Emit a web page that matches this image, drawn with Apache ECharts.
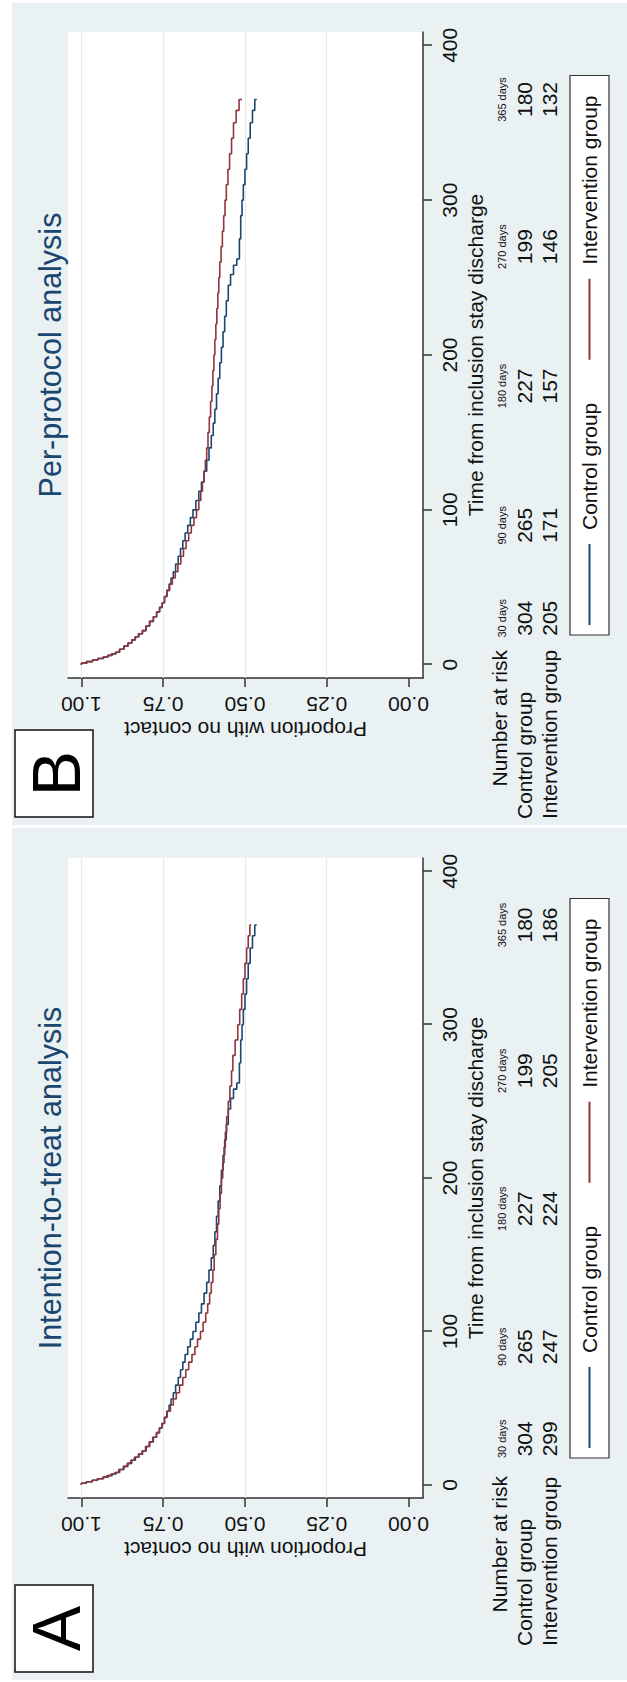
<!DOCTYPE html>
<html>
<head>
<meta charset="utf-8">
<script src="https://cdn.jsdelivr.net/npm/echarts@6/dist/echarts.min.js"></script>
<style>
  html, body { margin: 0; padding: 0; background: #fff; width: 627px; height: 1682px; overflow: hidden; }
  /* the figure is laid out landscape and turned a quarter turn counter-clockwise */
  #chart { position: absolute; left: 0; top: 1682px; width: 1682px; height: 627px;
           transform-origin: 0 0; transform: rotate(-90deg); }
</style>
</head>
<body>
<div id="chart"></div>
<script>
// ---- data ----
const timeTicks = [0, 100, 200, 300, 400];
const propTicks = [0, 0.25, 0.5, 0.75, 1];
const riskDays = [30, 90, 180, 270, 365];
const riskDayLabels = ['30 days', '90 days', '180 days', '270 days', '365 days'];
const controlAtRisk = [304, 265, 227, 199, 180];
const ittInterventionAtRisk = [299, 247, 224, 205, 186];
const ppInterventionAtRisk = [205, 171, 157, 146, 132];

// Kaplan-Meier estimates: [days, proportion with no contact]
const controlCurve = [
  [0,1],[1,0.985],[2,0.966],[3,0.950],[4,0.932],[5,0.918],[6,0.906],[7,0.894],[8,0.883],
  [10,0.870],[12,0.858],[14,0.846],[16,0.835],[18,0.824],[20,0.813],[22,0.802],[25,0.791],
  [28,0.780],[31,0.770],[34,0.761],[37,0.753],[40,0.746],[44,0.739],[48,0.732],[52,0.726],
  [56,0.719],[60,0.712],[65,0.704],[70,0.697],[75,0.690],[80,0.683],[85,0.675],[90,0.667],
  [95,0.659],[100,0.650],[106,0.641],[112,0.633],[118,0.625],[125,0.617],[132,0.610],
  [140,0.603],[148,0.597],[156,0.592],[165,0.587],[175,0.582],[185,0.577],[195,0.572],
  [205,0.567],[215,0.562],[225,0.557],[235,0.551],[245,0.544],[252,0.535],[258,0.525],
  [262,0.517],[275,0.513],[290,0.509],[300,0.505],[310,0.500],[320,0.495],[330,0.490],
  [340,0.484],[350,0.477],[358,0.470],[365,0.464]
];
const ittInterventionCurve = [
  [0,1],[1,0.985],[2,0.968],[3,0.952],[4,0.935],[5,0.922],[6,0.910],[7,0.898],[8,0.886],
  [10,0.872],[12,0.860],[14,0.849],[16,0.838],[18,0.826],[20,0.815],[22,0.804],[25,0.793],
  [28,0.782],[31,0.771],[34,0.762],[37,0.754],[40,0.746],[44,0.738],[48,0.728],[52,0.719],
  [56,0.710],[60,0.700],[65,0.690],[70,0.681],[75,0.672],[80,0.662],[85,0.653],[90,0.645],
  [95,0.636],[100,0.628],[106,0.620],[112,0.614],[118,0.608],[125,0.603],[132,0.598],
  [140,0.594],[150,0.589],[160,0.584],[170,0.580],[180,0.576],[190,0.572],[200,0.568],
  [210,0.564],[220,0.560],[230,0.556],[240,0.551],[250,0.546],[260,0.541],[270,0.537],
  [280,0.530],[290,0.522],[300,0.516],[310,0.510],[320,0.505],[330,0.500],[340,0.495],
  [350,0.490],[358,0.485],[365,0.481]
];
const ppInterventionCurve = [
  [0,1],[1,0.983],[2,0.966],[3,0.950],[4,0.934],[5,0.920],[6,0.908],[7,0.896],[8,0.884],
  [10,0.870],[12,0.857],[14,0.846],[16,0.836],[18,0.826],[20,0.814],[22,0.803],[25,0.792],
  [28,0.780],[31,0.770],[34,0.761],[37,0.753],[40,0.746],[44,0.738],[48,0.730],[52,0.722],
  [56,0.713],[60,0.705],[65,0.696],[70,0.688],[75,0.680],[80,0.672],[85,0.664],[90,0.656],
  [95,0.648],[100,0.641],[106,0.635],[112,0.630],[118,0.625],[125,0.621],[132,0.617],
  [140,0.613],[150,0.609],[160,0.605],[170,0.601],[180,0.598],[190,0.595],[200,0.592],
  [210,0.589],[220,0.586],[230,0.583],[240,0.580],[250,0.577],[260,0.573],[270,0.569],
  [280,0.565],[290,0.561],[300,0.557],[310,0.552],[320,0.547],[330,0.541],[340,0.535],
  [350,0.527],[358,0.518],[365,0.509]
];

// ---- styling / layout ----
const FONT = '"Liberation Sans", Arial, Helvetica, sans-serif';
const NAVY = '#1a476f';
const MAROON = '#90353b';
const AXIS = '#333';
const TEXT = '#111';
const PANEL_BG = '#eaf1f3';
const GRIDLINE = '#e4ecef';

const panels = [
  { title: 'Intention-to-treat analysis', tag: 'A', bgLeft: 2, bgRight: 854,
    gridLeft: 184, gridWidth: 640, xMin: -8.6, xMax: 408.7,
    legendLeft: 224, rowLeft: 36, rowRight: 206, tagLeft: 10,
    intervention: ittInterventionCurve, interventionAtRisk: ittInterventionAtRisk },
  { title: 'Per-protocol analysis', tag: 'B', bgLeft: 857, bgRight: 1679,
    gridLeft: 1004, gridWidth: 646, xMin: -8.6, xMax: 408.6,
    legendLeft: 1047, rowLeft: 863, rowRight: 1032, tagLeft: 865,
    intervention: ppInterventionCurve, interventionAtRisk: ppInterventionAtRisk }
];

const GRID_TOP = 68, GRID_HEIGHT = 355;
const Y_MIN = -0.0443, Y_MAX = 1.041;

const chart = echarts.init(document.getElementById('chart'), null,
  { renderer: 'svg', width: 1682, height: 627 });

const axisText = { fontSize: 21, color: TEXT, fontFamily: FONT };

const option = {
  animation: false,
  textStyle: { fontFamily: FONT },
  grid: panels.map(p => ({
    left: p.gridLeft, top: GRID_TOP, width: p.gridWidth, height: GRID_HEIGHT,
    show: true, backgroundColor: '#fff', borderWidth: 0
  })),
  xAxis: panels.map((p, i) => ({
    type: 'value', gridIndex: i, min: p.xMin, max: p.xMax,
    axisLine: { show: true, onZero: false, lineStyle: { color: AXIS, width: 1.5 } },
    axisTick: { show: true, customValues: timeTicks, length: 9, lineStyle: { color: AXIS, width: 1.5 } },
    axisLabel: Object.assign({ customValues: timeTicks, margin: 16 }, axisText),
    splitLine: { show: false },
    name: 'Time from inclusion stay discharge', nameLocation: 'middle', nameGap: 39,
    nameTextStyle: axisText
  })),
  yAxis: panels.map((p, i) => ({
    type: 'value', gridIndex: i, min: Y_MIN, max: Y_MAX,
    axisLine: { show: true, onZero: false, lineStyle: { color: AXIS, width: 1.5 } },
    axisTick: { show: true, customValues: propTicks, length: 9, lineStyle: { color: AXIS, width: 1.5 } },
    axisLabel: Object.assign({ customValues: propTicks, margin: 16, rotate: 90,
      formatter: v => v.toFixed(2) }, axisText),
    splitLine: { show: false },
    name: 'Proportion with no contact', nameLocation: 'middle', nameGap: 41, nameRotate: 90,
    nameTextStyle: axisText
  })),
  legend: panels.map(p => ({
    left: p.legendLeft, top: 570, orient: 'horizontal',
    data: ['Control group', 'Intervention group'],
    icon: 'rect', itemWidth: 81, itemHeight: 2, itemGap: 43,
    padding: [9, 20, 9, 10],
    backgroundColor: '#fff', borderColor: AXIS, borderWidth: 1.2, borderRadius: 0,
    selectedMode: false,
    textStyle: { fontSize: 21, color: TEXT, fontFamily: FONT, padding: [0, 0, 0, 9] }
  })),
  series: []
};

panels.forEach((p, i) => {
  option.series.push({
    name: 'gridlines', type: 'line', xAxisIndex: i, yAxisIndex: i, data: [], z: 1,
    silent: true,
    markLine: {
      silent: true, symbol: 'none', z: 1, animation: false,
      label: { show: false },
      lineStyle: { color: GRIDLINE, width: 1.2, type: 'solid' },
      emphasis: { disabled: true },
      data: propTicks.filter(v => v > 0).map(v => ({ yAxis: v }))
    }
  });
  option.series.push({
    name: 'Control group', type: 'line', step: 'end', xAxisIndex: i, yAxisIndex: i,
    data: controlCurve, showSymbol: false, z: 3, color: NAVY,
    lineStyle: { color: NAVY, width: 1.6 }
  });
  option.series.push({
    name: 'Intervention group', type: 'line', step: 'end', xAxisIndex: i, yAxisIndex: i,
    data: p.intervention, showSymbol: false, z: 4, color: MAROON,
    lineStyle: { color: MAROON, width: 1.6 }
  });
});

chart.setOption(option);

// ---- panel frames, titles, tags and the number-at-risk table ----
function txt(x, y, text, size, align, extra) {
  return Object.assign({
    type: 'text', x: x, y: y, z: 10,
    style: { text: text, font: size + 'px ' + FONT, fill: TEXT, align: align, verticalAlign: 'middle' }
  }, extra || {});
}

const graphic = [];
panels.forEach((p, i) => {
  graphic.push({ type: 'rect', z: -10, silent: true,
    shape: { x: p.bgLeft, y: 12, width: p.bgRight - p.bgLeft, height: 627 - 12 },
    style: { fill: PANEL_BG } });
  const mid = p.gridLeft + p.gridWidth / 2;
  graphic.push({ type: 'text', x: mid, y: 49.5, z: 10,
    style: { text: p.title, font: '30.5px ' + FONT, fill: NAVY, align: 'center', verticalAlign: 'middle' } });
  graphic.push({ type: 'rect', z: 10, shape: { x: p.tagLeft, y: 15, width: 87, height: 78 },
    style: { fill: '#fff', stroke: '#111', lineWidth: 1.5 } });
  graphic.push({ type: 'text', x: p.tagLeft + 43.5, y: 56, z: 11,
    style: { text: p.tag, font: '68px ' + FONT, fill: '#000', align: 'center', verticalAlign: 'middle' } });

  graphic.push(txt(p.rowRight, 499.7, 'Number at risk', 21, 'right'));
  graphic.push(txt(p.rowLeft, 524.7, 'Control group', 21, 'left'));
  graphic.push(txt(p.rowLeft, 549.7, 'Intervention group', 21, 'left'));

  riskDays.forEach((d, k) => {
    const x = chart.convertToPixel({ xAxisIndex: i }, d);
    graphic.push(txt(x, 502.2, riskDayLabels[k], 11, 'center'));
    graphic.push(txt(x, 524.7, String(controlAtRisk[k]), 21, 'center'));
    graphic.push(txt(x, 549.7, String(p.interventionAtRisk[k]), 21, 'center'));
  });
});

chart.setOption({ graphic: graphic });
</script>
</body>
</html>
